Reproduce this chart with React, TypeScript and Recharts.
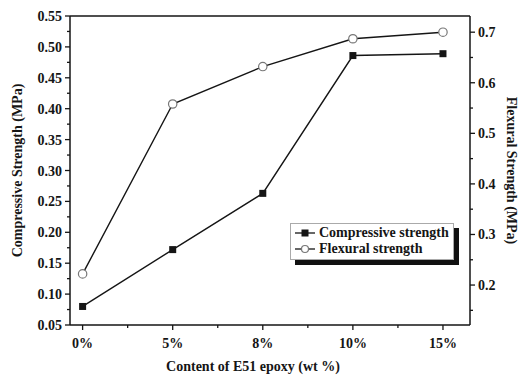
import {
    ComposedChart,
    Line,
    XAxis,
    YAxis,
    Legend,
    ReferenceLine,
} from 'recharts';

const categories = ['0%', '5%', '8%', '10%', '15%'];
const compressive = [0.08, 0.172, 0.263, 0.486, 0.489];
const flexural = [0.222, 0.558, 0.632, 0.687, 0.70];

const xMajorTicks = [0, 1, 2, 3, 4];
const xMinorTicks = [0.5, 1.5, 2.5, 3.5];
const leftMajorTicks = [0.05, 0.1, 0.15, 0.2, 0.25, 0.3, 0.35, 0.4, 0.45, 0.5, 0.55];
const leftMinorTicks = [0.075, 0.125, 0.175, 0.225, 0.275, 0.325, 0.375, 0.425, 0.475, 0.525];
const rightMajorTicks = [0.2, 0.3, 0.4, 0.5, 0.6, 0.7];
const rightMinorTicks = [0.15, 0.25, 0.35, 0.45, 0.55, 0.65];

const data = categories.map((name, i) => ({
    name,
    idx: i,
    compressive: compressive[i],
    flexural: flexural[i],
}));

const FONT = '"Liberation Serif", "Times New Roman", serif';
const INK = '#151515';

const isMajor = (list: number[], v: number) => list.some((m) => Math.abs(m - v) < 1e-6);

const LeftTick = (props: any) => {
    const { x, y, payload } = props;
    const major = isMajor(leftMajorTicks, payload.value);
    return (
        <g>
            <line x1={x - (major ? 5 : 3)} x2={x} y1={y} y2={y} stroke={INK} strokeWidth={1.3} />
            {major && (
                <text x={x - 8} y={y} dy={5} textAnchor="end" fontFamily={FONT} fontWeight="bold" fontSize={14} fill={INK}>
                    {payload.value.toFixed(2)}
                </text>
            )}
        </g>
    );
};

const RightTick = (props: any) => {
    const { x, y, payload } = props;
    const major = isMajor(rightMajorTicks, payload.value);
    return (
        <g>
            <line x1={x} x2={x + (major ? 5 : 3)} y1={y} y2={y} stroke={INK} strokeWidth={1.3} />
            {major && (
                <text x={x + 8} y={y} dy={5} textAnchor="start" fontFamily={FONT} fontWeight="bold" fontSize={14} fill={INK}>
                    {payload.value.toFixed(1)}
                </text>
            )}
        </g>
    );
};

const BottomTick = (props: any) => {
    const { x, y, payload } = props;
    const major = isMajor(xMajorTicks, payload.value);
    return (
        <g>
            <line x1={x} x2={x} y1={y} y2={y + (major ? 5 : 3)} stroke={INK} strokeWidth={1.3} />
            {major && (
                <text x={x} y={y + 23} textAnchor="middle" fontFamily={FONT} fontWeight="bold" fontSize={14} fill={INK}>
                    {categories[Math.round(payload.value)]}
                </text>
            )}
        </g>
    );
};

const SquareDot = (props: any) => {
    const { cx, cy } = props;
    if (cx == null || cy == null) return null;
    return <rect x={cx - 3.5} y={cy - 3.5} width={7} height={7} fill={INK} />;
};

const CircleDot = (props: any) => {
    const { cx, cy } = props;
    if (cx == null || cy == null) return null;
    return <circle cx={cx} cy={cy} r={4.2} fill="#fff" stroke="#777" strokeWidth={1.2} />;
};

const LegendBox = () => (
    <div
        style={{
            background: '#fff',
            border: '1px solid #aaa',
            boxShadow: '5px 5px 0 #111',
            padding: '1px 4px 2px 3px',
            fontFamily: FONT,
            fontWeight: 'bold',
            fontSize: 14,
            color: INK,
            lineHeight: '16px',
            whiteSpace: 'nowrap',
            textAlign: 'left',
        }}
    >
        <div style={{ display: 'flex', alignItems: 'center' }}>
            <svg width={22} height={12} style={{ marginRight: 3 }}>
                <line x1={1} x2={21} y1={6} y2={6} stroke={INK} strokeWidth={1.3} />
                <rect x={7.5} y={2.5} width={7} height={7} fill={INK} />
            </svg>
            Compressive strength
        </div>
        <div style={{ display: 'flex', alignItems: 'center' }}>
            <svg width={22} height={12} style={{ marginRight: 3 }}>
                <line x1={1} x2={21} y1={6} y2={6} stroke={INK} strokeWidth={1.3} />
                <circle cx={11} cy={6} r={3.5} fill="#fff" stroke="#777" strokeWidth={1.2} />
            </svg>
            Flexural strength
        </div>
    </div>
);

const App = () => {
    return (
        <div style={{ position: 'absolute', left: 0, top: 0, background: '#fff' }}>
            <ComposedChart width={520} height={375} data={data} margin={{ top: 16, right: 0, bottom: 0, left: 0 }}>
                <XAxis
                    dataKey="idx"
                    type="number"
                    domain={[-0.14, 4.3]}
                    ticks={[...xMajorTicks, ...xMinorTicks].sort((a, b) => a - b)}
                    interval={0}
                    height={50}
                    tickSize={0}
                    tickMargin={0}
                    tickLine={false}
                    tick={<BottomTick />}
                    axisLine={{ stroke: INK, strokeWidth: 1.5 }}
                    label={{
                        value: 'Content of E51 epoxy (wt %)',
                        position: 'insideBottom',
                        offset: 4,
                        dx: -17,
                        style: { fontFamily: FONT, fontWeight: 'bold', fontSize: 14, fill: INK },
                    }}
                />
                <YAxis
                    yAxisId="left"
                    orientation="left"
                    width={70}
                    domain={[0.05, 0.55]}
                    ticks={[...leftMajorTicks, ...leftMinorTicks].sort((a, b) => a - b)}
                    interval={0}
                    tickSize={0}
                    tickMargin={0}
                    tickLine={false}
                    tick={<LeftTick />}
                    axisLine={{ stroke: INK, strokeWidth: 1.5 }}
                    label={{
                        value: 'Compressive Strength (MPa)',
                        angle: -90,
                        position: 'center',
                        dx: -18,
                        style: { fontFamily: FONT, fontWeight: 'bold', fontSize: 14, fill: INK },
                    }}
                />
                <YAxis
                    yAxisId="right"
                    orientation="right"
                    width={50}
                    domain={[0.121, 0.732]}
                    ticks={[...rightMajorTicks, ...rightMinorTicks].sort((a, b) => a - b)}
                    interval={0}
                    tickSize={0}
                    tickMargin={0}
                    tickLine={false}
                    tick={<RightTick />}
                    axisLine={{ stroke: INK, strokeWidth: 1.5 }}
                    label={{
                        value: 'Flexural Strength (MPa)',
                        angle: 90,
                        position: 'center',
                        dx: 17,
                        style: { fontFamily: FONT, fontWeight: 'bold', fontSize: 14, fill: INK },
                    }}
                />
                <ReferenceLine yAxisId="left" y={0.55} stroke={INK} strokeWidth={1.5} />
                <Line
                    yAxisId="left"
                    dataKey="compressive"
                    type="linear"
                    stroke={INK}
                    strokeWidth={1.4}
                    dot={<SquareDot />}
                    activeDot={false}
                    isAnimationActive={false}
                />
                <Line
                    yAxisId="right"
                    dataKey="flexural"
                    type="linear"
                    stroke={INK}
                    strokeWidth={1.4}
                    dot={<CircleDot />}
                    activeDot={false}
                    isAnimationActive={false}
                />
                <Legend
                    layout="horizontal"
                    align="center"
                    verticalAlign="middle"
                    content={<LegendBox />}
                    wrapperStyle={{ position: 'absolute', left: 290, top: 223, width: 'auto', height: 'auto' }}
                />
            </ComposedChart>
        </div>
    );
};

export default App;
